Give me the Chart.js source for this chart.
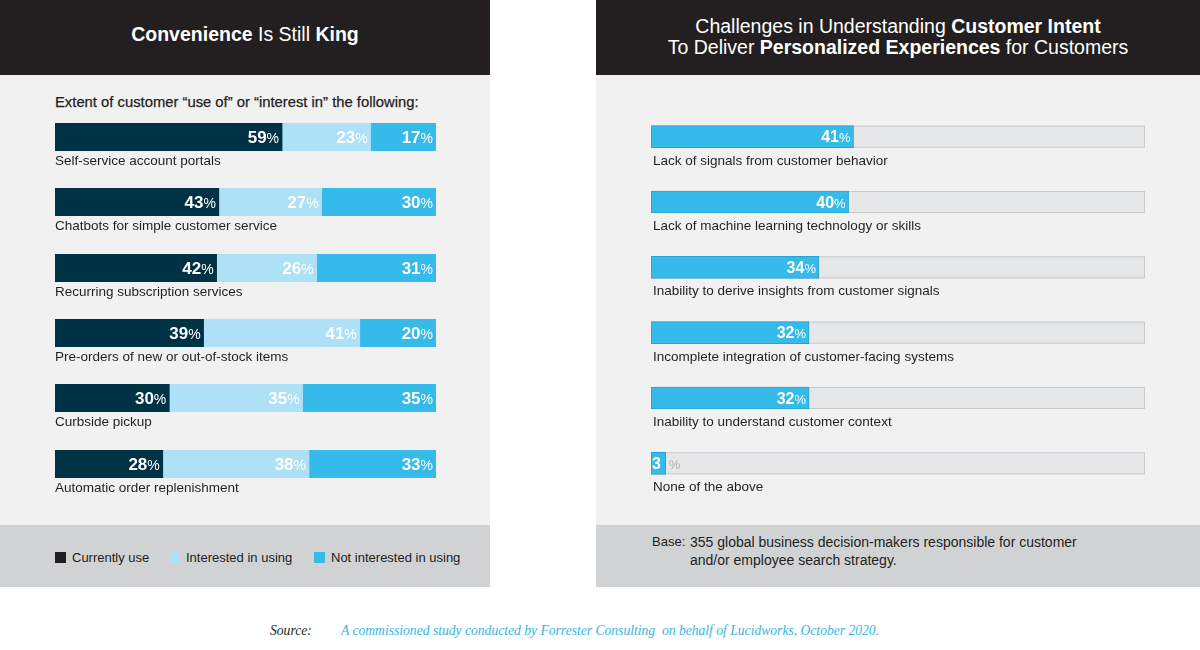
<!DOCTYPE html>
<html>
<head>
<meta charset="utf-8">
<title>Convenience Is Still King</title>
<script src="https://cdn.jsdelivr.net/npm/chart.js@4.4.1/dist/chart.umd.min.js"></script>
<style>
  body { margin: 0; width: 1200px; height: 650px; background: #fff; position: relative; overflow: hidden;
         font-family: "Liberation Sans", Arial, Helvetica, sans-serif; color: #231f20; }
  .panel { position: absolute; top: 0; height: 587px; }
  #left { left: 0; width: 490px; }
  #right { left: 596px; width: 604px; }
  .head { position: absolute; left: 0; top: 0; right: 0; height: 75px; background: #231f20; color: #fff; }
  .body { position: absolute; left: 0; top: 75px; right: 0; height: 450px; background: #f1f1f1; }
  .foot { position: absolute; left: 0; top: 525px; right: 0; height: 62px; background: #d1d2d4; }
  .title { position: absolute; left: 0; right: 0; text-align: center; font-size: 19.5px; white-space: nowrap; }
  #left .title { top: 22px; line-height: 24px; }
  #right .title { top: 16px; line-height: 20.7px; }
  .subtitle { position: absolute; left: 55px; top: 94px; font-size: 14.8px; line-height: 17px; white-space: nowrap;
              -webkit-text-stroke: 0.25px #231f20; }
  canvas { position: absolute; }
  .legend-item { position: absolute; top: 24px; font-size: 13px; line-height: 18px; white-space: nowrap; }
  .legend-item i { position: absolute; left: 0; top: 3px; width: 11px; height: 11px; }
  .base { position: absolute; top: 8px; font-size: 14px; line-height: 18px; white-space: nowrap; }
  .source { position: absolute; top: 622px; font-family: "Liberation Serif", "Times New Roman", serif;
            font-style: italic; font-size: 13.6px; line-height: 18px; white-space: pre; }
</style>
</head>
<body>

<div id="left" class="panel">
  <div class="head"><div class="title"><b>Convenience</b> Is Still <b>King</b></div></div>
  <div class="body"></div>
  <div class="foot" id="left-legend"></div>
  <div class="subtitle">Extent of customer “use of” or “interest in” the following:</div>
</div>

<div id="right" class="panel">
  <div class="head"><div class="title">Challenges in Understanding <b>Customer Intent</b><br>To Deliver <b>Personalized Experiences</b> for Customers</div></div>
  <div class="body"></div>
  <div class="foot">
    <div class="base" style="left:56px;font-size:13px">Base:</div>
    <div class="base" style="left:94px">355 global business decision-makers responsible for customer<br>and/or employee search strategy.</div>
  </div>
  <canvas id="chart-challenges" width="604" height="450" style="left:0;top:75px;width:604px;height:450px"></canvas>
</div>

<div class="source" style="left:270px;color:#231f20">Source:</div>
<div class="source" style="left:341px;color:#35b6e6">A commissioned study conducted by Forrester Consulting  on behalf of Lucidworks, October 2020.</div>

<script>
// Left panel data
const leftCategories = [
    'Self-service account portals',
    'Chatbots for simple customer service',
    'Recurring subscription services',
    'Pre-orders of new or out-of-stock items',
    'Curbside pickup',
    'Automatic order replenishment'
];
const currentlyUse = [59, 43, 42, 39, 30, 28];
const interestedInUsing = [23, 27, 26, 41, 35, 38];
const notInterested = [17, 30, 31, 20, 35, 33];
const leftSeriesNames = ['Currently use', 'Interested in using', 'Not interested in using'];

// Right panel data
const rightCategories = [
    'Lack of signals from customer behavior',
    'Lack of machine learning technology or skills',
    'Inability to derive insights from customer signals',
    'Incomplete integration of customer-facing systems',
    'Inability to understand customer context',
    'None of the above'
];
const challengeValues = [41, 40, 34, 32, 32, 3];

const FONT = '"Liberation Sans", Arial, Helvetica, sans-serif';
const barColors = ['#003246', '#aee1f5', '#35bae9'];
const legendColors = ['#231f20', '#aee1f5', '#35bae9'];

// White "NN%" labels at the right end of each bar
const valueLabels = {
    id: 'valueLabels',
    afterDatasetsDraw(chart, args, opts) {
        const ctx = chart.ctx;
        chart.data.datasets.forEach((ds, di) => {
            const meta = chart.getDatasetMeta(di);
            meta.data.forEach((bar, i) => {
                const num = String(ds.data[i]);
                const y = bar.y + opts.numSize * 0.36;
                ctx.save();
                ctx.textBaseline = 'alphabetic';
                ctx.font = `${opts.pctSize}px ${FONT}`;
                const pw = ctx.measureText('%').width;
                ctx.font = `bold ${opts.numSize}px ${FONT}`;
                const nw = ctx.measureText(num).width;
                const width = bar.x - bar.base;
                ctx.fillStyle = '#ffffff';
                ctx.textAlign = 'right';
                if (nw + pw + 6 > width) {
                    // bar too short: number inside, percent sign outside
                    ctx.fillText(num, bar.x - 5, y);
                    ctx.font = `${opts.pctSize}px ${FONT}`;
                    ctx.fillStyle = '#b3b3b3';
                    ctx.textAlign = 'left';
                    ctx.fillText('%', bar.x + 3, y);
                } else {
                    ctx.fillText(num, bar.x - 3 - pw, y);
                    ctx.font = `${opts.pctSize}px ${FONT}`;
                    ctx.fillText('%', bar.x - 3, y);
                }
                ctx.restore();
            });
        });
    }
};

// Category text written under each bar
const rowLabels = {
    id: 'rowLabels',
    afterDraw(chart, args, opts) {
        const ctx = chart.ctx;
        const meta = chart.getDatasetMeta(0);
        ctx.save();
        ctx.font = `13.5px ${FONT}`;
        ctx.fillStyle = '#231f20';
        ctx.textAlign = 'left';
        ctx.textBaseline = 'alphabetic';
        meta.data.forEach((bar, i) => {
            ctx.fillText(chart.data.labels[i], chart.chartArea.left + opts.indent, bar.y + 28);
        });
        ctx.restore();
    }
};

// Grey 100% track behind each bar
const barTrack = {
    id: 'barTrack',
    beforeDatasetsDraw(chart, args, opts) {
        const ctx = chart.ctx;
        const x = chart.scales.x;
        const x0 = x.getPixelForValue(x.min);
        const x1 = x.getPixelForValue(x.max);
        ctx.save();
        chart.getDatasetMeta(0).data.forEach(bar => {
            const top = bar.y - bar.height / 2;
            ctx.fillStyle = opts.color;
            ctx.fillRect(x0, top, x1 - x0, bar.height);
            ctx.strokeStyle = opts.border;
            ctx.lineWidth = 1;
            ctx.strokeRect(x0 + 0.5, top + 0.5, x1 - x0 - 1, bar.height - 1);
        });
        ctx.restore();
    }
};

// Left panel: one stacked row per canvas so each row spans its own total
const leftSeries = [currentlyUse, interestedInUsing, notInterested];
const leftPanel = document.getElementById('left');

leftCategories.forEach((cat, i) => {
    const canvas = document.createElement('canvas');
    canvas.width = 490;
    canvas.height = 50;
    canvas.style.cssText = `left:0;top:${Math.round(123 + i * 65.3)}px;width:490px;height:50px`;
    leftPanel.appendChild(canvas);

    const rowTotal = leftSeries.reduce((sum, s) => sum + s[i], 0);

    new Chart(canvas, {
        type: 'bar',
        data: {
            labels: [cat],
            datasets: leftSeries.map((s, k) => ({
                label: leftSeriesNames[k],
                data: [s[i]],
                backgroundColor: barColors[k],
                borderWidth: 0,
                barThickness: 28
            }))
        },
        options: {
            indexAxis: 'y',
            responsive: false,
            animation: false,
            events: [],
            layout: { padding: { left: 55, right: 54, top: 0, bottom: 22 } },
            scales: {
                x: { stacked: true, min: 0, max: rowTotal, display: false },
                y: { stacked: true, display: false }
            },
            plugins: {
                legend: { display: false },
                tooltip: { enabled: false },
                valueLabels: { numSize: 17, pctSize: 14 },
                rowLabels: { indent: 0 }
            }
        },
        plugins: [valueLabels, rowLabels]
    });
});

// Left legend (HTML, in the grey footer)
const legendLefts = [55, 169, 314];
const legendBox = document.getElementById('left-legend');
leftSeriesNames.forEach((name, k) => {
    const item = document.createElement('div');
    item.className = 'legend-item';
    item.style.left = legendLefts[k] + 'px';
    item.style.paddingLeft = '17px';
    item.innerHTML = `<i style="background:${legendColors[k]}"></i>${name}`;
    legendBox.appendChild(item);
});

// Right panel
new Chart(document.getElementById('chart-challenges'), {
    type: 'bar',
    data: {
        labels: rightCategories,
        datasets: [{
            label: 'Challenges',
            data: challengeValues,
            backgroundColor: '#35bae9',
            borderColor: '#2aa2d3',
            borderWidth: 1,
            borderSkipped: false,
            barThickness: 22
        }]
    },
    options: {
        indexAxis: 'y',
        responsive: false,
        animation: false,
        events: [],
        layout: { padding: { left: 55, right: 55, top: 29, bottom: 29 } },
        scales: {
            x: { min: 0, max: 100, display: false },
            y: { display: false }
        },
        plugins: {
            legend: { display: false },
            tooltip: { enabled: false },
            barTrack: { color: '#e6e7e8', border: '#c9cacc' },
            valueLabels: { numSize: 16, pctSize: 13 },
            rowLabels: { indent: 2 }
        }
    },
    plugins: [barTrack, valueLabels, rowLabels]
});
</script>
</body>
</html>
